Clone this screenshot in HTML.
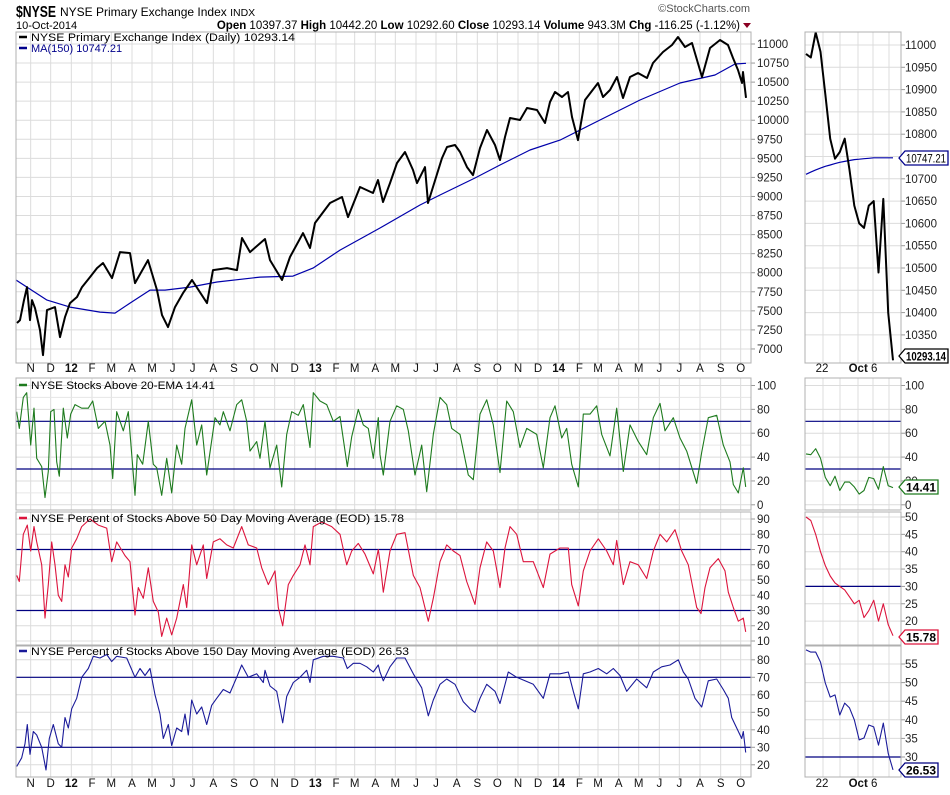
<!DOCTYPE html>
<html><head><meta charset="utf-8"><style>
html,body{margin:0;padding:0;background:#fff;}
svg{display:block;font-family:"Liberation Sans",sans-serif;}
</style></head><body>
<svg id="chart" width="950" height="795" viewBox="0 0 950 795" xmlns="http://www.w3.org/2000/svg">
<defs>
<clipPath id="c1"><rect x="16" y="32" width="735" height="331"/></clipPath>
<clipPath id="c2"><rect x="16" y="378" width="735" height="132"/></clipPath>
<clipPath id="c3"><rect x="16" y="512" width="735" height="133"/></clipPath>
<clipPath id="c4"><rect x="16" y="646" width="735" height="131"/></clipPath>
<clipPath id="m1"><rect x="805" y="32" width="96" height="331"/></clipPath>
<clipPath id="m2"><rect x="805" y="378" width="96" height="132"/></clipPath>
<clipPath id="m3"><rect x="805" y="512" width="96" height="133"/></clipPath>
<clipPath id="m4"><rect x="805" y="646" width="96" height="131"/></clipPath>
</defs>
<g>
<text x="16" y="17" font-size="15.5" font-weight="bold" fill="#000" textLength="40" lengthAdjust="spacingAndGlyphs">$NYSE</text>
<text x="60" y="16" font-size="12" fill="#000">NYSE Primary Exchange Index <tspan font-size="10.5">INDX</tspan></text>
<text x="16" y="29" font-size="11" fill="#000">10-Oct-2014</text>
<text x="740" y="29" font-size="11.5" text-anchor="end" fill="#000"><tspan font-weight="bold">Open</tspan> 10397.37 <tspan font-weight="bold">High</tspan> 10442.20 <tspan font-weight="bold">Low</tspan> 10292.60 <tspan font-weight="bold">Close</tspan> 10293.14 <tspan font-weight="bold">Volume</tspan> 943.3M <tspan font-weight="bold">Chg</tspan> -116.25 (-1.12%)</text>
<polygon points="743,23 751,23 747,28" fill="#8b0022"/>
<text x="750" y="12" font-size="11" text-anchor="end" fill="#555">©StockCharts.com</text>
</g>
<g id="grid"></g>
<g id="marks"></g>
<g id="frames"></g>
<g id="labels"></g>
</svg>
<script>
// ---- main price (days since 2011-10-01, value) ----
const priceDays = [10.5,15,21,25.5,30,33,37.5,45,49.5,55.5,67.5,75,82.5,90,100.5,108,120,130.5,139.5,153,165,180,187.5,207,220.5,228,237,247.5,259.5,273,295.5,304.5,325.5,340.5,348,360,382.5,390,408,420,439.5,450,457.5,480,498,507,525,544.5,552,559.5,570,580.5,592.5,604.5,610.5,622.5,627,648,655.5,667.5,675,685.5,694.5,705,715.5,727.5,735,742.5,750,765,775.5,790.5,802.5,810,817.5,828,837,843,852,862.5,882,889.5,900,910.5,919.5,930,942,955.5,964.5,979.5,993,1002,1012.5,1023,1030.5,1038,1050,1065,1077,1084.5,1092,1098,1099.5,1104];
const priceVals = [7340,7379,7641,7812,7379,7641,7536,7248,6920,7510,7549,7156,7418,7602,7681,7812,7943,8061,8127,7930,8271,8258,7864,8166,7772,7444,7287,7549,7733,7904,7602,8035,8061,8035,8455,8271,8442,8166,7904,8206,8520,8324,8652,8914,8993,8730,9124,9045,9216,8927,9176,9439,9583,9347,9176,9386,8914,9504,9649,9675,9583,9386,9281,9636,9872,9675,9478,9780,10029,10003,10160,10134,9964,10239,10370,10305,10370,10042,9740,10265,10488,10305,10396,10567,10292,10567,10620,10554,10751,10895,10987,11092,10961,11013,10790,10567,10948,11052,10987,10816,10659,10488,10633,10293];
const maDays = [9,55.5,90,135,157.5,180,210,232.5,270,310.5,375,424.5,454.5,495,555,615,645,697.5,735,780,825,885,945,1005,1057.5,1087.5,1104];
const maVals = [7904,7641,7549,7484,7471,7602,7772,7772,7812,7878,7943,7956,8061,8297,8586,8888,9019,9242,9413,9609,9740,10003,10265,10488,10593,10738,10747];
// ---- % above 20-EMA ----
const emaDays = [10,14,20,25,31,36,40,47.5,52.5,57.5,61,66,70,74,80,86,91,97.5,107.5,117.5,124,132.5,142.5,150,154,160,170,177.5,187.5,191,199,207.5,215,220,227.5,235,242.5,250,257.5,262.5,272.5,280,287.5,295,307.5,315,320,330,340,347.5,355,360,370,375,382.5,390,400,407.5,415,422.5,432.5,440,450,455,465,475,485,495,506,512.5,522.5,530,537.5,545,552.5,555,560,570,580,590,597.5,607.5,617.5,625,635,645,655,662.5,675,687.5,695,705,715,725,735,745,755,765,775,790,800,810,817.5,827.5,835,842.5,852.5,860,870,880,887.5,900,910,920,930,942.5,955,965,975,982.5,995,1005,1015,1030,1037.5,1047.5,1060,1070,1080,1085,1092.5,1100,1103.5];
const emaVals = [78,64,90,94,50,81,39,32,6,28,78,80,36,24,81,56,76,84,81,81,87,64,70,50,22,78,62,78,8,42,34,70,34,31,8,39,10,50,34,64,88,50,67,25,73,67,78,62,84,88,70,45,53,39,70,31,50,15,59,78,75,84,48,94,87,84,70,74,32,57,80,67,64,39,73,42,25,70,83,80,62,25,50,11,59,90,84,64,59,25,21,76,88,67,27,87,78,48,64,59,31,73,83,56,64,34,15,76,76,83,59,41,81,28,67,53,42,73,85,62,73,56,45,18,44,73,75,50,36,17,10,31,15];
// ---- % above 50-day MA ----
const p50Days = [10,14,20,26,31,36,40,47.5,52.5,57.5,62.5,67.5,72.5,77.5,82.5,87.5,92.5,100,107.5,120,132.5,145,152.5,160,172.5,180,187.5,192.5,200,207.5,215,222.5,227.5,235,242.5,250,260,265,272.5,280,290,295,305,315,325,335,347.5,357.5,370,377.5,387.5,397.5,402.5,409,417.5,425,435,442.5,450,455,467.5,482.5,495,505,512.5,522.5,532.5,545,552.5,555,560,570,580,592.5,605,615,627.5,635,645,655,665,675,685,697.5,705,715,725,735,742.5,750,760,770,785,800,810,825,837.5,842.5,852.5,860,870,882.5,895,905,910,920,930,942.5,955,965,975,985,997.5,1007.5,1017.5,1030,1036.5,1042.5,1050,1062.5,1072.5,1077.5,1085,1092.5,1100,1103.5];
const p50Vals = [53,49,80,86,69,85,75,60,25,47,75,60,40,36,60,52,71,77,85,90,86,84,62,75,66,62,27,45,38,58,36,29,13,25,14,25,47,32,73,60,73,51,75,77,73,71,85,73,71,58,47,56,32,20,47,53,60,73,60,85,88,85,80,60,69,74,67,54,70,62,42,69,80,81,53,45,23,38,62,73,69,66,49,34,58,75,69,45,71,85,80,62,62,45,67,71,71,47,33,56,69,77,69,60,76,47,62,60,51,69,80,75,83,69,60,32,28,45,58,64,56,42,32,23,25,16];
// ---- % above 150-day MA ----
const p150Days = [10,17.5,22.5,26,30,35,40,47.5,54,59,65,72.5,77.5,82.5,87.5,92.5,100,107.5,117.5,125,135,145,152.5,160,175,187.5,195,202.5,210,217.5,225,230,237.5,242.5,250,257.5,262.5,267.5,272.5,280,287.5,295,302.5,310,320,330,340,347.5,357.5,370,380,382.5,390,400,409,415,425,435,445,450,455,470,485,500,506,515,525,535,545,552.5,555,560,570,580,592.5,605,617.5,627.5,635,645,655,667.5,680,690,697.5,705,715,727.5,735,747.5,760,772.5,785,800,810,825,837.5,845,852.5,860,870,882.5,895,905,915,925,940,955,965,977.5,990,1002.5,1010,1017.5,1027.5,1037.5,1047.5,1060,1070,1077.5,1082.5,1090,1097.5,1100,1103.5];
const p150Vals = [19,24,32,43,26,39,37,30,17,35,43,32,30,47,41,52,58,70,75,82,81,83,79,82,81,70,75,71,75,60,49,35,43,31,41,39,49,37,57,49,53,43,54,58,63,61,70,77,70,72,67,74,65,62,44,59,67,70,74,67,80,82,82,81,75,78,78,76,73,77,73,68,76,81,81,72,64,48,57,66,69,66,56,52,50,58,66,62,55,73,70,68,66,58,72,72,73,62,52,72,73,75,72,75,71,62,69,64,73,76,77,80,73,69,58,53,68,69,63,58,47,41,35,39,27];
// ---- mini panels (last 19 sessions) ----
const miniPrice = [10980,10972,11028,10985,10890,10790,10745,10760,10790,10720,10640,10600,10590,10640,10650,10490,10655,10400,10293];
const miniMA = [10710,10715,10720,10724,10728,10731,10734,10737,10739,10741,10743,10744,10745,10746,10747,10747,10747,10747,10747];
const miniEma = [42.7,42,47,39,23,16,24,12,19,19,15,9,12,23,22,13,32,16,14.41];
const miniP50 = [50,49,45,40,36,33,31,30,29,27,25,26,21,23,26,20,25,19,15.78];
const miniP150 = [58.8,58.2,58.2,55.5,49.9,46.1,46.7,41.3,44.5,43.2,40,34.6,35.1,38.6,38.1,33.2,39.1,31,26.53];
// ---- axis ticks ----
const priceTicks = [11000,10750,10500,10250,10000,9750,9500,9250,9000,8750,8500,8250,8000,7750,7500,7250,7000];
const miniPriceTicks = [11000,10950,10900,10850,10800,10750,10700,10650,10600,10550,10500,10450,10400,10350];
const emaTicks = [100,80,60,40,20,0];
const p50Ticks = [90,80,70,60,50,40,30,20,10];
const p150Ticks = [80,70,60,50,40,30,20];
const miniP50Ticks = [50,45,40,35,30,25,20];
const miniP150Ticks = [55,50,45,40,35,30];
const monthLabels = ['N','D','12','F','M','A','M','J','J','A','S','O','N','D','13','F','M','A','M','J','J','A','S','O','N','D','14','F','M','A','M','J','J','A','S','O'];

const NS='http://www.w3.org/2000/svg';
const G=document.getElementById('grid'),M=document.getElementById('marks'),F=document.getElementById('frames'),L=document.getElementById('labels');
function el(tag,attrs,parent){const e=document.createElementNS(NS,tag);for(const k in attrs)e.setAttribute(k,attrs[k]);parent.appendChild(e);return e;}
const xMain=d=>10+d/1.5;
const yP1=v=>44+(11000-v)*0.07624;
const yP2=v=>504.8-v*1.193;
const yP3=v=>641-(v-10)*1.525;
const yP4=v=>764.8-(v-20)*1.75;
const xMini=i=>806+i*(87/18);
const yM1=v=>45+(11000-v)*0.446;
const yM3=v=>517+(50-v)*3.47;
const yM4=v=>664+(55-v)*3.72;
const panels=[[32,363],[378,510],[512,645],[646,777]];

const monthDays=[];
for(let i=0;i<monthLabels.length;i++){const dt=new Date(Date.UTC(2011,10+i,1));monthDays.push((dt-Date.UTC(2011,9,1))/86400000);}
monthDays.forEach((d,i)=>{
  const x=xMain(d);
  panels.forEach(p=>{const ln=el('line',{x1:x,x2:x,y1:p[0],y2:p[1],stroke:'#dcdcdc','stroke-width':1},G);

});
  [372,787].forEach(y=>{const t=el('text',{x:x,y:y,'font-size':11.5,'text-anchor':'middle',fill:'#111'},L);


if(/\d/.test(monthLabels[i]))t.setAttribute('font-weight','bold');t.textContent=monthLabels[i];});
});
[823,840,858,873,889].forEach(x=>{panels.forEach(p=>{const ln=el('line',{x1:x,x2:x,y1:p[0],y2:p[1],stroke:'#dcdcdc'},G);

});});
[372,787].forEach(y=>{
 const a=el('text',{x:822,y:y,'font-size':11.5,'text-anchor':'middle',fill:'#111'},L);


a.textContent='22';
 const b=el('text',{x:863,y:y,'font-size':11.5,'text-anchor':'middle',fill:'#111'},L);


 b.innerHTML='<tspan font-weight="bold">Oct</tspan> 6';
});
function hTicks(ticks,yf,x0,x1,lx){
 ticks.forEach(v=>{const y=yf(v);
  const ln=el('line',{x1:x0,x2:x1,y1:y,y2:y,stroke:'#dcdcdc'},G);


  const tk=el('line',{x1:x1,x2:x1+4,y1:y,y2:y,stroke:'#999'},G);


  const t=el('text',{x:lx,y:y+4,'font-size':11.5,fill:'#222'},L);


  t.textContent=v;});
}
hTicks(priceTicks,yP1,16,751,757);
hTicks(miniPriceTicks,yM1,805,901,905);
hTicks(emaTicks,yP2,16,751,757);hTicks(emaTicks,yP2,805,901,905);
[90,70,50,30,10].forEach(v=>{const ln=el('line',{x1:16,x2:751,y1:yP2(v),y2:yP2(v),stroke:'#e6e6e6'},G);

});
hTicks(p50Ticks,yP3,16,751,757);
hTicks(miniP50Ticks,yM3,805,901,905);
hTicks(p150Ticks,yP4,16,751,757);
hTicks(miniP150Ticks,yM4,805,901,905);
function ref(y,x0,x1){const ln=el('line',{x1:x0,x2:x1,y1:y,y2:y,stroke:'#000080','stroke-width':1.2},M);

}
[70,30].forEach(v=>{ref(yP2(v),16,751);ref(yP2(v),805,901);ref(yP3(v),16,751);ref(yP4(v),16,751);});
ref(yM3(30),805,901);ref(yM4(30),805,901);
function series(xs,ys,xf,yf,color,w,clip,name){
 const d=xs.map((x,i)=>(i?'L':'M')+xf(x).toFixed(1)+','+yf(ys[i]).toFixed(1)).join('');
 const p=el('path',{d:d,fill:'none',stroke:color,'stroke-width':w,'stroke-linejoin':'round','clip-path':'url(#'+clip+')'},M);
 
 
}
const idx=miniPrice.map((_,i)=>i);
series(maDays,maVals,xMain,yP1,'#0000aa',1.2,'c1','ma150-line');
series(priceDays,priceVals,xMain,yP1,'#000',2,'c1','price-line');
series(emaDays,emaVals,xMain,yP2,'#1e7b1e',1.1,'c2','ema20-line');
series(p50Days,p50Vals,xMain,yP3,'#dc143c',1.1,'c3','pct-above-50-line');
series(p150Days,p150Vals,xMain,yP4,'#1a1a99',1.1,'c4','pct-above-150-line');
series(idx,miniMA,xMini,yM1,'#0000aa',1.2,'m1','mini-ma150-line');
series(idx,miniPrice,xMini,yM1,'#000',2,'m1','mini-price-line');
series(idx,miniEma,xMini,yP2,'#1e7b1e',1.1,'m2','mini-ema20-line');
series(idx,miniP50,xMini,yM3,'#dc143c',1.1,'m3','mini-pct-above-50-line');
series(idx,miniP150,xMini,yM4,'#1a1a99',1.1,'m4','mini-pct-above-150-line');
panels.forEach(p=>{[[16,735],[805,96]].forEach(q=>{const r=el('rect',{x:q[0],y:p[0],width:q[1],height:p[1]-p[0],fill:'none',stroke:'#b0b0b0'},F);

});});
function legend(y,color,txt,len){
 const ln=el('line',{x1:19,x2:27,y1:y-4,y2:y-4,stroke:color,'stroke-width':2.5},L);


 const t=el('text',{x:31,y:y,'font-size':11,fill:'#000',textLength:len,lengthAdjust:'spacingAndGlyphs'},L);


 t.textContent=txt;
}
legend(41,'#000','NYSE Primary Exchange Index (Daily) 10293.14',264);
const ma=el('text',{x:31,y:52,'font-size':11,fill:'#00008b'},L);


ma.textContent='MA(150) 10747.21';
const maSw=el('line',{x1:19,x2:27,y1:48,y2:48,stroke:'#00008b','stroke-width':2.5},L);


legend(389,'#1e7b1e','NYSE Stocks Above 20-EMA 14.41',184);
legend(522,'#dc143c','NYSE Percent of Stocks Above 50 Day Moving Average (EOD) 15.78',373);
legend(655,'#1a1a99','NYSE Percent of Stocks Above 150 Day Moving Average (EOD) 26.53',378);
function vbox(y,txt,color,w,bold){
 const g=el('g',{},L);
 
 
 el('polygon',{points:`899,${y} 905,${y-7} ${905+w},${y-7} ${905+w},${y+7} 905,${y+7}`,fill:'#fff',stroke:color,'stroke-width':1.3},g);
 const t=el('text',{x:906,y:y+4.5,'font-size':12,fill:'#000','font-weight':bold?'bold':'normal',textLength:w-3,lengthAdjust:'spacingAndGlyphs'},g);
 t.textContent=txt;
}
vbox(158,'10747.21','#00008b',43,false);
vbox(356,'10293.14','#000',43,true);
vbox(487,'14.41','#1e7b1e',33,true);
vbox(637,'15.78','#dc143c',33,true);
vbox(770,'26.53','#000080',33,true);
</script>
</body></html>
